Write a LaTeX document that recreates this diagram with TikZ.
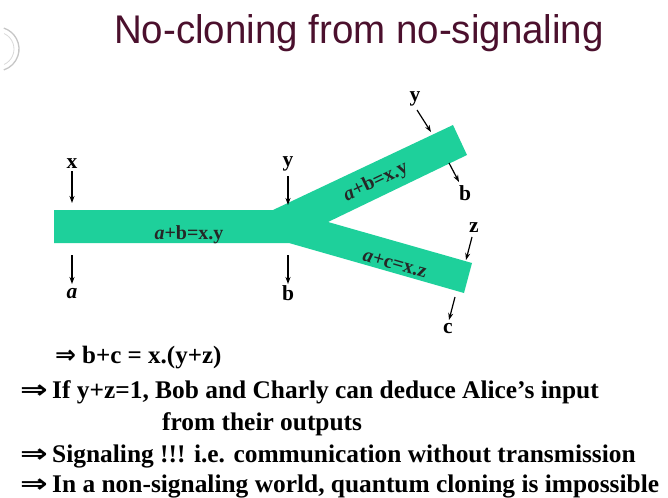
\documentclass[tikz,border=0pt]{standalone}
\usepackage{fontspec}
\setmainfont{Liberation Serif}
\newfontfamily\titlefont{Liberation Sans}
\newfontfamily\symfont{DejaVu Sans}
\usetikzlibrary{arrows.meta}
\definecolor{barcol}{RGB}{30,208,155}
\definecolor{titlecol}{RGB}{75,16,45}
\newcommand{\impl}[2]{\makebox[#1][l]{\scalebox{#2}[1]{\symfont\bfseries ⇒}}}
\tikzset{
  lbl/.style={font=\fontsize{21.5}{21.5}\selectfont\bfseries, inner sep=0pt},
  inbar/.style={font=\fontsize{20}{20}\selectfont\bfseries, inner sep=0pt, text=black!85},
  arr/.style={-{Stealth[length=7pt,width=5pt]}, line width=1.2pt},
  body/.style={font=\fontsize{25.4}{25.4}\selectfont\bfseries, inner sep=0pt, anchor=base west},
}
\begin{document}
\begin{tikzpicture}[x=1pt,y=-1pt]
\useasboundingbox (0,0) rectangle (668,497);
% partial logo at the left edge
\draw[gray!45, line width=1.3pt] (-3,49) ++(-72:22) arc[start angle=-72, end angle=72, radius=22];
\draw[gray!30, line width=0.8pt] (-3,49) ++(-65:17) arc[start angle=-65, end angle=65, radius=17];
% title
\node[font=\fontsize{40}{40}\titlefont, text=titlecol, inner sep=0pt, anchor=base] (title) at (359,44) {\scalebox{0.962}[1]{No-cloning from no-signaling}};
% the forked bar
\fill[barcol] (54,210) -- (273,210) -- (453,125) -- (467,155) -- (328,222) -- (472,263) -- (464,293) -- (289,243) -- (54,243) -- cycle;
\node[inbar, anchor=base] (eq1) at (189,239) {\textit{a}+b=x.y};
\node[inbar, rotate=25.3] (eq2) at (376,182) {\textit{a}+b=x.y};
\node[inbar, rotate=-16] (eq3) at (395,264) {\textit{a}+c=x.z};
% inputs and outputs
\node[lbl] (x) at (72,164) {x};
\coordinate (xs) at (72,171);
\coordinate (xe) at (72,203);
\draw[arr] (xs) -- (xe);
\coordinate (as) at (72,255);
\coordinate (ae) at (72,284);
\node[lbl] (a) at (72,294) {\textit{a}};
\draw[arr] (as) -- (ae);
\node[lbl] (y1) at (288,164) {y};
\coordinate (y1s) at (288,176);
\coordinate (y1e) at (288,205);
\draw[arr] (y1s) -- (y1e);
\coordinate (b1s) at (288,255);
\coordinate (b1e) at (288,284);
\node[lbl] (b1) at (288,293) {b};
\draw[arr] (b1s) -- (b1e);
\node[lbl] (y2) at (415,99) {y};
\coordinate (y2s) at (417,110);
\coordinate (y2e) at (431,132);
\draw[arr] (y2s) -- (y2e);
\coordinate (b2s) at (449,163);
\coordinate (b2e) at (459,182);
\node[lbl] (b2) at (465,193) {b};
\draw[arr] (b2s) -- (b2e);
\node[lbl] (z) at (474,228) {z};
\coordinate (zs) at (472,237);
\coordinate (ze) at (466,260);
\draw[arr] (zs) -- (ze);
\coordinate (cs) at (455,297);
\coordinate (ce) at (449,320);
\node[lbl] (c) at (448,329) {c};
\draw[arr] (cs) -- (ce);
% text lines
\node[body, font=\fontsize{25}{25}\selectfont\bfseries] (l1) at (55,363) {\impl{27pt}{1.0}b+c = x.(y+z)};
\node[body] (l2) at (20,398) {\impl{32pt}{1.3}If y+z=1, Bob and Charly can deduce Alice’s input};
\node[body] (l3) at (162,430) {from their outputs};
\node[body] (l4) at (20,462) {\impl{32pt}{1.3}Signaling !!! i.e. communication without transmission};
\node[body] (l5) at (20,492) {\impl{32pt}{1.3}In a non-signaling world, quantum cloning is impossible};
\end{tikzpicture}
\end{document}
